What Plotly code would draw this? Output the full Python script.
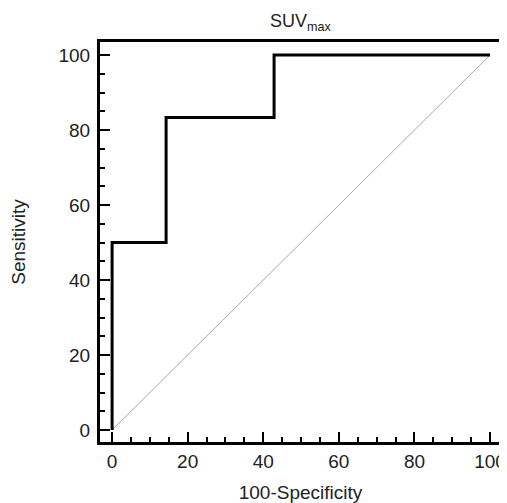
import plotly.graph_objects as go

# ROC curve points (100-Specificity, Sensitivity)
roc_x = [0, 0, 14.29, 14.29, 42.86, 42.86, 100]
roc_y = [0, 50, 50, 83.33, 83.33, 100, 100]
ref_x = [0, 100]
ref_y = [0, 100]
tick_vals = [0, 20, 40, 60, 80, 100]

fig = go.Figure()
fig.add_trace(
    go.Scatter(x=ref_x, y=ref_y, mode="lines", line=dict(color="#a8a8a8", width=1))
)
fig.add_trace(
    go.Scatter(x=roc_x, y=roc_y, mode="lines", line=dict(color="black", width=3))
)

axis_style = dict(
    showgrid=False,
    zeroline=False,
    showline=True,
    mirror=True,
    linecolor="black",
    linewidth=3,
    ticks="inside",
    ticklen=10,
    tickwidth=2,
    tickcolor="black",
    tickvals=tick_vals,
    tickfont=dict(size=19, color="#222"),
    automargin=False,
    minor=dict(ticks="inside", ticklen=5, tickwidth=1.5, tickcolor="black", dtick=5),
)

# page body has an 8px margin, so the figure is a bit smaller than the window
fig.update_layout(
    width=499,
    height=495,
    showlegend=False,
    plot_bgcolor="white",
    paper_bgcolor="white",
    font=dict(family="Liberation Sans, Arial", color="#222"),
    margin=dict(l=92, r=6, t=34, b=61),
    title=dict(
        text="SUV<sub>max</sub>",
        x=0.5,
        xref="paper",
        y=0.974,
        yanchor="middle",
        font=dict(size=18),
    ),
    xaxis=dict(
        range=[-3.2, 102.9],
        title=dict(text="100-Specificity", font=dict(size=19), standoff=15),
        **axis_style,
    ),
    yaxis=dict(
        range=[-3.2, 103.5],
        ticklabelstandoff=3,
        title=dict(text="Sensitivity", font=dict(size=19), standoff=29),
        **axis_style,
    ),
)

fig.write_html("out.html")
